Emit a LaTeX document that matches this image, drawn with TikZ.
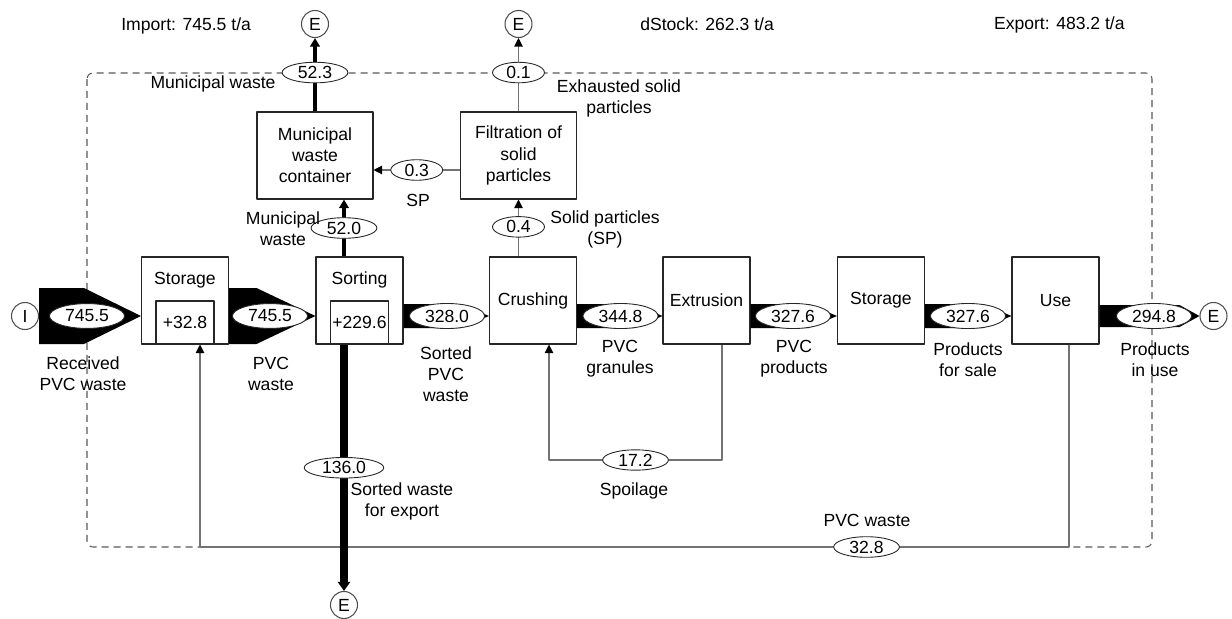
\documentclass[tikz,border=0pt]{standalone}
\usepackage{fontspec}
\setmainfont{Liberation Sans}
\usetikzlibrary{arrows.meta,calc,shapes.geometric}
\newcommand{\flowband}[4]{%
    \fill ($(#1.east |- row)+(0,-#3)$) -- ($(#2.west |- row)+(-#4,-#3)$)
        -- (#2.west |- row) -- ($(#2.west |- row)+(-#4,#3)$)
        -- ($(#1.east |- row)+(0,#3)$) -- cycle;}

\begin{document}
\begin{tikzpicture}[x=0.02cm, y=-0.02cm, line join=round,
        font=\fontsize{10}{12}\selectfont,
        proc/.style={draw=black!85, line width=0.6pt, minimum width=1.74cm, minimum height=1.74cm, inner sep=0pt},
        bigproc/.style={proc, minimum width=2.32cm, align=center},
        stock/.style={draw=black!85, line width=0.6pt, minimum width=1.16cm, minimum height=0.86cm, inner sep=0pt, anchor=south},
        val/.style={ellipse, draw=black!85, fill=white, line width=0.5pt, inner xsep=3.5pt, inner ysep=0.6pt},
        bigval/.style={val, inner xsep=2.6pt, inner ysep=1.5pt},
        endpt/.style={circle, draw=black!70, fill=white, line width=0.6pt, minimum size=0.54cm, inner sep=0pt},
        lbl/.style={align=center, inner sep=0pt},
        thinflow/.style={draw=black!55, line width=0.6pt, -{Triangle[length=1.7mm, width=1.7mm, color=black]}},
        thickflow/.style={line width=2.2pt, -{Triangle[length=1.7mm, width=1.9mm]}},
        exportflow/.style={line width=4.5pt, -{Triangle[length=1.8mm, width=2.4mm]}},
        sysborder/.style={draw=black!65, dash pattern=on 1.4mm off 1mm, line width=0.6pt, rounded corners=1.2mm}]
    \useasboundingbox (0,0) rectangle (1232,619);
    \coordinate (row) at (0,316);
    \coordinate (sprow) at (0,170);
    \coordinate (sp1) at (722,460);
    \coordinate (sp2) at (549,460);
    \coordinate (rw1) at (1069,547);
    \coordinate (rw2) at (200,547);
    \draw[sysborder] (87,73) rectangle (1152,547);

    \node[proc] (st1) at (185,300.5) {};
    \node[proc] (so) at (359.5,300.5) {};
    \foreach \n/\x/\t in {cr/533/Crushing, ex/706.5/Extrusion, st2/881/Storage, use/1055.5/Use}
        \node[proc] (\n) at (\x,300.5) {\t};
    \node (st1-t) at (185,280) {Storage};
    \node (so-t) at (359.5,280) {Sorting};
    \node[stock] (st1-s) at (st1.south) {+32.8};
    \node[stock] (so-s) at (so.south) {+229.6};
    \node[bigproc] (mwc) at (315,155.5) {Municipal\\waste\\container};
    \node[bigproc] (fil) at (518.5,155.5) {Filtration of\\solid\\particles};

    \node[endpt] (I) at (25,316) {I};
    \node[endpt] (E1) at (315,24) {E};
    \node[endpt] (E2) at (518.5,24) {E};
    \node[endpt] (E3) at (344,605) {E};
    \node[endpt] (E4) at (1213.5,316) {E};

    \flowband{I}{st1}{28}{57}
    \flowband{st1}{so}{28}{59}
    \flowband{so}{cr}{12}{28}
    \flowband{cr}{ex}{12}{28}
    \flowband{ex}{st2}{12}{28}
    \flowband{st2}{use}{12}{28}
    \flowband{use}{E4}{11}{20}
    \foreach \n/\x/\v in {v1/87/745.5, v2/270/745.5, v3/447/328.0, v4/620.5/344.8, v5/793/327.6, v6/968/327.6, v7/1154/294.8}
        \node[bigval] (\n) at (\x,316) {\v};

    \draw[thickflow] (so.north -| E3) -- node[val, pos=0.5] (v520) {52.0} (mwc.south -| E3);
    \draw[thickflow] (mwc.north) -- node[val, pos=0.53] (v523) {52.3} (E1.south);
    \draw[thinflow] (fil.north) -- node[val, pos=0.53] (v01) {0.1} (E2.south);
    \draw[thinflow] (cr.north -| fil) -- node[val, pos=0.52] (v04) {0.4} (fil.south);
    \draw[thinflow] (fil.west |- sprow) -- node[val, pos=0.5] (v03) {0.3} (mwc.east |- sprow);
    \draw[thinflow] (ex.south -| sp1) -- (sp1) -- node[val, pos=0.5] (v172) {17.2} (sp2) -- (cr.south -| sp2);
    \draw[thinflow] (use.south -| rw1) -- (rw1) -- node[val, pos=0.233] (v328) {32.8} (rw2) -- (st1.south -| rw2);
    \draw[exportflow] (so.south -| E3) -- node[val, pos=0.5] (v136) {136.0} (E3.north);

    \node[lbl] (l-recv) at (83,374) {Received\\PVC waste};
    \node[lbl] (l-pvcw) at (271,374) {PVC\\waste};
    \node[lbl] (l-sort) at (446,374) {Sorted\\PVC\\waste};
    \node[lbl] (l-gran) at (620,359) {PVC\\granules};
    \node[lbl] (l-prod) at (794,359) {PVC\\products};
    \node[lbl] (l-sale) at (968,360) {Products\\for sale};
    \node[lbl] (l-inuse) at (1155,360) {Products\\in use};
    \node[lbl] (l-mw1) at (213,84) {Municipal waste};
    \node[lbl] (l-mw2) at (283,229) {Municipal\\waste};
    \node[lbl] (l-sp) at (418,200) {SP};
    \node[lbl] (l-solid) at (605,229) {Solid particles\\(SP)};
    \node[lbl] (l-exh) at (619,98) {Exhausted solid\\particles};
    \node[lbl] (l-exp) at (402,501) {Sorted waste\\for export};
    \node[lbl] (l-spoil) at (634,491) {Spoilage};
    \node[lbl] (l-ret) at (867,520) {PVC waste};
    \node[lbl, anchor=west] (l-imp) at (121,26) {Import: 745.5 t/a};
    \node[lbl, anchor=west] (l-dst) at (640,24) {dStock: 262.3 t/a};
    \node[lbl, anchor=east] (l-expt) at (1125,25) {Export: 483.2 t/a};
\end{tikzpicture}
\end{document}
